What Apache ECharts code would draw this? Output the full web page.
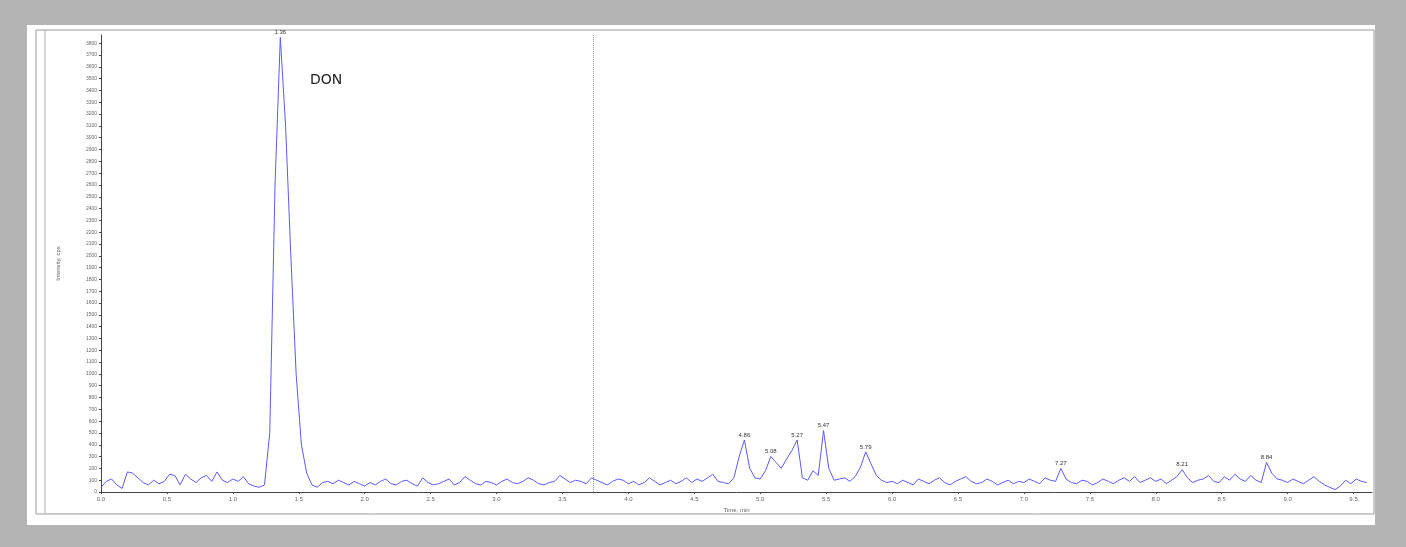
<!DOCTYPE html>
<html>
<head>
<meta charset="utf-8">
<script src="https://cdn.jsdelivr.net/npm/echarts@6/dist/echarts.min.js"></script>
<style>
  body { margin: 0; background: #b4b4b4; }
  #panel { position: absolute; left: 27px; top: 25px; width: 1348px; height: 500px; background: #fff; }
  #chart { position: absolute; left: 0; top: 0; width: 1406px; height: 547px; }
</style>
</head>
<body>
<div id="panel"></div>
<div id="chart"></div>
<script>
// retention time step (min) and intensity, one row per minute
var timeStep = 0.04;
var row0 = [40,90,110,60,30,170,160,120,80,60,100,70,90,150,140,60,150,110,80,120,140,90,170,100,80];
var row1 = [110,90,130,70,50,40,60,500,2600,3850,3100,2000,1000,400,160,60,40,80,90,70,100,80,60,90,70];
var row2 = [50,80,60,90,110,70,60,90,100,70,50,120,80,60,70,90,110,60,80,130,100,70,60,90,80];
var row3 = [60,90,110,80,70,90,120,100,70,60,80,90,140,110,80,100,90,70,120,100,80,60,90,110,100];
var row4 = [70,90,60,80,120,90,60,80,100,70,90,120,80,110,90,120,150,90,80,70,120,300,440,200,120];
var row5 = [110,180,300,250,200,280,350,440,120,100,180,140,520,200,100,110,120,90,130,210,340,240,140,100,80];
var row6 = [90,70,100,80,60,110,90,70,100,120,80,60,90,110,130,90,70,80,110,90,60,80,100,70,90];
var row7 = [80,110,90,70,120,100,90,200,110,80,70,100,90,60,80,110,90,70,100,120,90,130,80,100,120];
var row8 = [90,110,70,100,130,190,120,80,100,110,140,90,80,130,100,150,110,90,140,100,80,250,160,110,100];
var row9 = [80,110,90,70,100,130,90,60,40,20,50,100,70,110,90,80];

var peakTimes = [1.36, 4.88, 5.08, 5.28, 5.48, 5.80, 7.28, 8.20, 8.84];
var peakLabels = ['1.36', '4.86', '5.08', '5.27', '5.47', '5.79', '7.27', '8.21', '8.84'];
var peakHeights = [3850, 440, 300, 440, 520, 340, 200, 190, 250];
var markerTime = 3.73;

var intensity = [].concat(row0, row1, row2, row3, row4, row5, row6, row7, row8, row9);
var trace = intensity.map(function (v, i) {
    return [+(i * timeStep).toFixed(2), v];
});

var chart = echarts.init(document.getElementById('chart'));
chart.setOption({
    animation: false,
    grid: { left: 101, right: 34, top: 35, bottom: 55 },
    graphic: [
        { type: 'text', left: 310, top: 73, style: { text: 'DON', fontSize: 14, fill: '#222', fontFamily: 'DejaVu Sans' } },
        { type: 'rect', shape: { x: 36, y: 30, width: 1338, height: 484 }, style: { fill: 'none', stroke: '#999', lineWidth: 1 } },
        { type: 'line', shape: { x1: 45, y1: 30, x2: 45, y2: 514 }, style: { stroke: '#aaa', lineWidth: 1 } }
    ],
    xAxis: {
        type: 'value', min: 0, max: 9.64, interval: 0.5,
        name: 'Time, min', nameLocation: 'middle', nameGap: 10,
        nameTextStyle: { fontSize: 6, color: '#666' },
        axisLine: { onZero: false, lineStyle: { color: '#444' } },
        axisTick: { length: 2 },
        axisLabel: { fontSize: 6, color: '#666', margin: 4, showMaxLabel: false,
                     formatter: function (v) { return v.toFixed(1); } },
        splitLine: { show: false }
    },
    yAxis: {
        type: 'value', min: 0, max: 3870, interval: 100,
        name: 'Intensity, cps', nameLocation: 'middle', nameGap: 40, nameRotate: 90,
        nameTextStyle: { fontSize: 6, color: '#666' },
        axisLine: { show: true, lineStyle: { color: '#444' } },
        axisTick: { show: true, length: 2 },
        axisLabel: { fontSize: 5, color: '#666', margin: 4, showMaxLabel: false,
                     formatter: function (v) { return String(v); } },
        splitLine: { show: false }
    },
    series: [{
        type: 'line', data: trace, symbol: 'none', smooth: false,
        lineStyle: { color: '#5a5aff', width: 1 },
        markLine: {
            symbol: 'none', silent: true, label: { show: false },
            lineStyle: { color: '#999', type: 'dotted', width: 1 },
            data: [{ xAxis: markerTime }]
        },
        markPoint: {
            symbol: 'circle', symbolSize: 0,
            label: { show: true, position: 'top', fontSize: 6, color: '#333', distance: 2,
                     formatter: function (p) { return p.name; } },
            data: peakTimes.map(function (t, i) {
                return { name: peakLabels[i], coord: [t, peakHeights[i]] };
            })
        }
    }]
});
</script>
</body>
</html>
